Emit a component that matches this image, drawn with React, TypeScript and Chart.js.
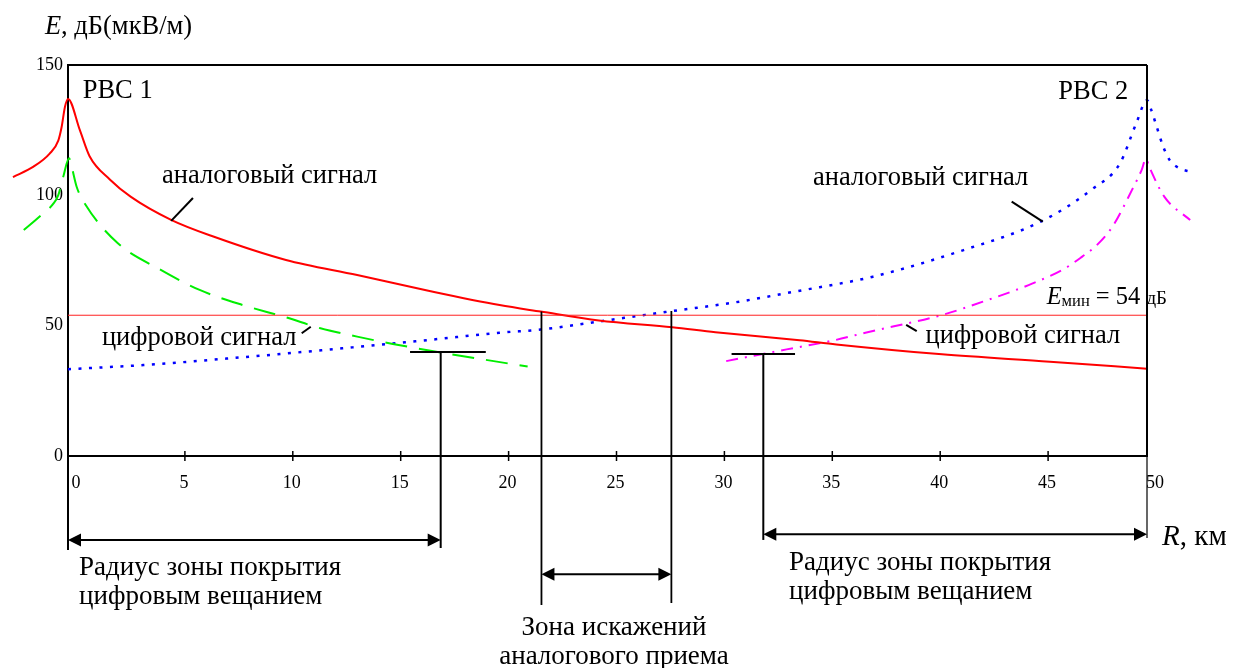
import React, { useEffect, useRef } from "react";
import { Chart, registerables } from "chart.js";

Chart.register(...registerables);

// ---------- data (R, km ; E, dB(µV/m)) ----------
const analog1X = [-2.55, -1.6, -0.85, -0.45, -0.3, -0.14, 0, 0.55, 1.0, 1.95, 2.9, 4.8, 6.8, 10.1, 13.4, 16.7, 20.0, 21.9, 24.6, 28.0, 30.0, 33.9, 35.6, 40.5, 45.5, 50];
const analog1Y = [107, 111, 116, 121, 126, 134, 137, 125, 115, 106, 99.5, 90.5, 84, 75.2, 69.4, 63.4, 57.9, 55.4, 52, 49.4, 47.5, 44.4, 42.8, 39, 36.2, 33.5];

const digital1X = [-2.05, -1.3, -0.67, -0.45, -0.22, 0.05, 0.17, 0.4, 0.82, 2.31, 4.3, 6.1, 8.1, 10.1, 11.7, 13.4, 15.05, 17.5, 19.2, 21.3];
const digital1Y = [86.7, 92, 96.9, 100.1, 107.1, 114.2, 111, 103.3, 96.3, 81.6, 71.4, 63.7, 57.9, 53.2, 49, 45.8, 43, 39.4, 37.1, 34.3];

const analog2X = [0, 3.5, 8.4, 12.7, 16.7, 20.0, 21.9, 25.1, 28.0, 30.8, 33.5, 37.3, 41.5, 45.1, 47.4, 48.75, 49.5, 50, 50.2, 50.45, 50.75, 51.05, 51.5, 52.0];
const analog2Y = [33.3, 34.9, 38.1, 41.3, 44.5, 47.3, 48.5, 52.2, 55.6, 58.8, 62.8, 68.8, 79, 90, 102, 112.3, 127.6, 136.5, 132.7, 126.3, 118.7, 113.5, 110.4, 109.1];

const digital2X = [30.5, 33.3, 35.4, 37.0, 40.5, 42.6, 44.7, 46.2, 47.0, 47.6, 48.4, 49.3, 49.75, 49.95, 50.1, 50.8, 52.0];
const digital2Y = [36.4, 40.9, 44.2, 47.4, 54.1, 59.8, 66.2, 72, 76.5, 80.3, 88, 102, 109.7, 114, 111, 99.5, 90.5];

const eMinValue = 54;
const eMinRangeX = [0, 50];

const xTickValues = [0, 5, 10, 15, 20, 25, 30, 35, 40, 45, 50];
const xTickLabels = ["0", "5", "10", "15", "20", "25", "30", "35", "40", "45", "50"];
const yTickValues = [0, 50, 100, 150];
const yTickLabels = ["0", "50", "100", "150"];

// key distances
const coverage1R = 17.27;
const coverage1E = 39.9;
const coverage2R = 32.22;
const coverage2E = 39.1;
const distortionStartR = 21.94;
const distortionStartE = 55.4;
const distortionEndR = 27.96;
const distortionEndE = 55.6;

const FONT = '"Liberation Serif", "Times New Roman", "DejaVu Serif", serif';

const zip = (xs: number[], ys: number[]) => xs.map((x, i) => ({ x, y: ys[i] }));

const overlay = {
  id: "overlay",
  afterDraw(chart: any) {
    const { ctx } = chart;
    const xs = chart.scales.x;
    const ys = chart.scales.y;
    const X = (v: number) => xs.getPixelForValue(v);
    const Y = (v: number) => ys.getPixelForValue(v);
    ctx.save();
    ctx.strokeStyle = "#000";
    ctx.fillStyle = "#000";
    ctx.lineCap = "butt";

    const line = (x1: number, y1: number, x2: number, y2: number, w = 2) => {
      ctx.lineWidth = w;
      ctx.beginPath();
      ctx.moveTo(x1, y1);
      ctx.lineTo(x2, y2);
      ctx.stroke();
    };
    const head = (tipX: number, y: number, dir: number) => {
      ctx.beginPath();
      ctx.moveTo(tipX, y);
      ctx.lineTo(tipX - dir * 13, y - 6.5);
      ctx.lineTo(tipX - dir * 13, y + 6.5);
      ctx.closePath();
      ctx.fill();
    };
    const dblArrow = (x1: number, x2: number, y: number) => {
      line(x1 + 6, y, x2 - 6, y, 2);
      head(x1, y, -1);
      head(x2, y, 1);
    };
    const text = (s: string, x: number, y: number, size: number, align: CanvasTextAlign = "left", baseline: CanvasTextBaseline = "alphabetic", italic = false) => {
      ctx.font = `${italic ? "italic " : ""}${size}px ${FONT}`;
      ctx.textAlign = align;
      ctx.textBaseline = baseline;
      ctx.fillText(s, x, y);
      return ctx.measureText(s).width;
    };

    // frame
    line(X(0), Y(150), X(50), Y(150), 2);
    line(X(50), Y(150), X(50), Y(0), 2);
    line(X(50), Y(0), X(50), Y(-31.5), 1.2);
    line(X(0), Y(0), X(0), Y(-36.1), 2);

    // x tick marks (crossing the axis)
    const tickShift = 9;
    xs.ticks.forEach((t: any) => {
      if (t.value > 0 && t.value < 50) {
        const p = X(t.value) + tickShift;
        line(p, Y(0) - 5, p, Y(0) + 5, 1.5);
      }
    });

    // coverage T-bars and verticals
    line(X(15.85), Y(coverage1E), X(19.36), Y(coverage1E), 2);
    line(X(coverage1R), Y(coverage1E), X(coverage1R), Y(-35.3), 2);
    line(X(30.75), Y(coverage2E), X(33.69), Y(coverage2E), 2);
    line(X(coverage2R), Y(coverage2E), X(coverage2R), Y(-32.2), 2);

    // distortion zone verticals
    line(X(distortionStartR), Y(distortionStartE), X(distortionStartR), Y(-57.2), 1.8);
    line(X(distortionEndR), Y(distortionEndE), X(distortionEndR), Y(-56.4), 1.8);

    // arrows
    dblArrow(X(0), X(coverage1R), Y(-32.2));
    dblArrow(X(coverage2R), X(50), Y(-30.0));
    dblArrow(X(distortionStartR), X(distortionEndR), Y(-45.4));

    // leader lines
    line(X(5.79), Y(99.0), X(4.78), Y(90.2), 2);
    line(X(43.73), Y(97.6), X(45.17), Y(89.9), 2);
    line(X(10.83), Y(47.1), X(11.25), Y(49.6), 2);
    line(X(38.84), Y(50.3), X(39.33), Y(47.9), 2);

    // texts
    let w = text("E", X(-1.07), Y(161.9), 26.5, "left", "alphabetic", true);
    text(", дБ(мкВ/м)", X(-1.07) + w, Y(161.9), 26.5);

    text("РВС 1", X(0.68), Y(137.3), 26.5);
    text("РВС 2", X(49.13), Y(137.0), 26.5, "right");
    text("аналоговый сигнал", X(4.36), Y(104.7), 26.5);
    text("аналоговый сигнал", X(44.5), Y(104.0), 26.5, "right");
    text("цифровой сигнал", X(1.57), Y(42.6), 26.5);
    text("цифровой сигнал", X(39.74), Y(43.35), 26.5);

    // E_min label
    let ex = X(45.35);
    const eb = Y(58.3);
    ex += text("E", ex, eb, 24.5, "left", "alphabetic", true);
    ex += text("мин", ex, eb + 2, 16.5);
    ex += text(" = 54 ", ex, eb, 24.5);
    text("дБ", ex, eb, 19);

    w = text("R", X(50.7), Y(-34.1), 29, "left", "alphabetic", true);
    text(", км", X(50.7) + w, Y(-34.1), 29);

    text("Радиус зоны покрытия", X(0.51), Y(-43.0), 27, "left", "middle");
    text("цифровым вещанием", X(0.51), Y(-54.1), 27, "left", "middle");
    text("Радиус зоны покрытия", X(33.41), Y(-41.0), 27, "left", "middle");
    text("цифровым вещанием", X(33.41), Y(-52.2), 27, "left", "middle");
    text("Зона искажений", X(25.3), Y(-66.0), 27, "center", "middle");
    text("аналогового приема", X(25.3), Y(-77.1), 27, "center", "middle");

    ctx.restore();
  },
};

export default function App() {
  const ref = useRef<HTMLCanvasElement | null>(null);

  useEffect(() => {
    if (!ref.current) return;
    const tickFont = { family: FONT, size: 18 };
    const chart = new Chart(ref.current, {
      type: "line",
      data: {
        datasets: [
          {
            label: "Eмин",
            data: eMinRangeX.map((x) => ({ x, y: eMinValue })),
            borderColor: "#ff2020",
            borderWidth: 1,
            clip: false,
          } as any,
          {
            label: "аналоговый сигнал РВС 1",
            data: zip(analog1X, analog1Y),
            borderColor: "#ff0000",
            borderWidth: 2,
            clip: false,
          } as any,
          {
            label: "цифровой сигнал РВС 1",
            data: zip(digital1X, digital1Y),
            borderColor: "#00ee00",
            borderWidth: 2,
            borderDash: [22, 12],
            clip: false,
          } as any,
          {
            label: "аналоговый сигнал РВС 2",
            data: zip(analog2X, analog2Y),
            borderColor: "#0000ff",
            borderWidth: 2.5,
            borderDash: [3, 7.5],
            clip: false,
          } as any,
          {
            label: "цифровой сигнал РВС 2",
            data: zip(digital2X, digital2Y),
            borderColor: "#ff00ff",
            borderWidth: 2,
            borderDash: [12, 7, 2, 7],
            clip: false,
          } as any,
        ],
      },
      options: {
        animation: false,
        responsive: true,
        maintainAspectRatio: false,
        layout: { padding: { left: 8, top: 57, right: 79, bottom: 172 } },
        plugins: { legend: { display: false }, tooltip: { enabled: false } },
        elements: {
          point: { radius: 0, hoverRadius: 0 },
          line: { cubicInterpolationMode: "monotone" },
        },
        scales: {
          x: {
            type: "linear",
            bounds: "data",
            // range fixed after data limits so that the curve tails outside 0..50 are still drawn
            afterDataLimits: (s: any) => {
              s.min = xTickValues[0];
              s.max = xTickValues[xTickValues.length - 1];
            },
            afterFit: (s: any) => {
              s.height = 40;
            },
            afterBuildTicks: (s: any) => {
              s.ticks = xTickValues.map((value) => ({ value }));
            },
            grid: { display: false, drawTicks: false },
            border: { display: true, color: "#000", width: 2 },
            ticks: {
              font: tickFont,
              color: "#000",
              padding: 16,
              labelOffset: 8,
              maxRotation: 0,
              autoSkip: false,
              callback: (v: any) => {
                const i = xTickValues.indexOf(Number(v));
                return i >= 0 ? xTickLabels[i] : "";
              },
            },
          },
          y: {
            type: "linear",
            min: 0,
            max: 150,
            afterFit: (s: any) => {
              s.width = 52;
            },
            afterBuildTicks: (s: any) => {
              s.ticks = yTickValues.map((value) => ({ value }));
            },
            grid: { display: false, drawTicks: false },
            border: { display: true, color: "#000", width: 2 },
            ticks: {
              font: tickFont,
              color: "#000",
              padding: 5,
              callback: (v: any) => {
                const i = yTickValues.indexOf(Number(v));
                return i >= 0 ? yTickLabels[i] : "";
              },
            },
          },
        },
      } as any,
      plugins: [overlay],
    });
    return () => chart.destroy();
  }, []);

  return (
    <div style={{ position: "relative", width: "1218px", height: "660px" }}>
      <canvas ref={ref} />
    </div>
  );
}
